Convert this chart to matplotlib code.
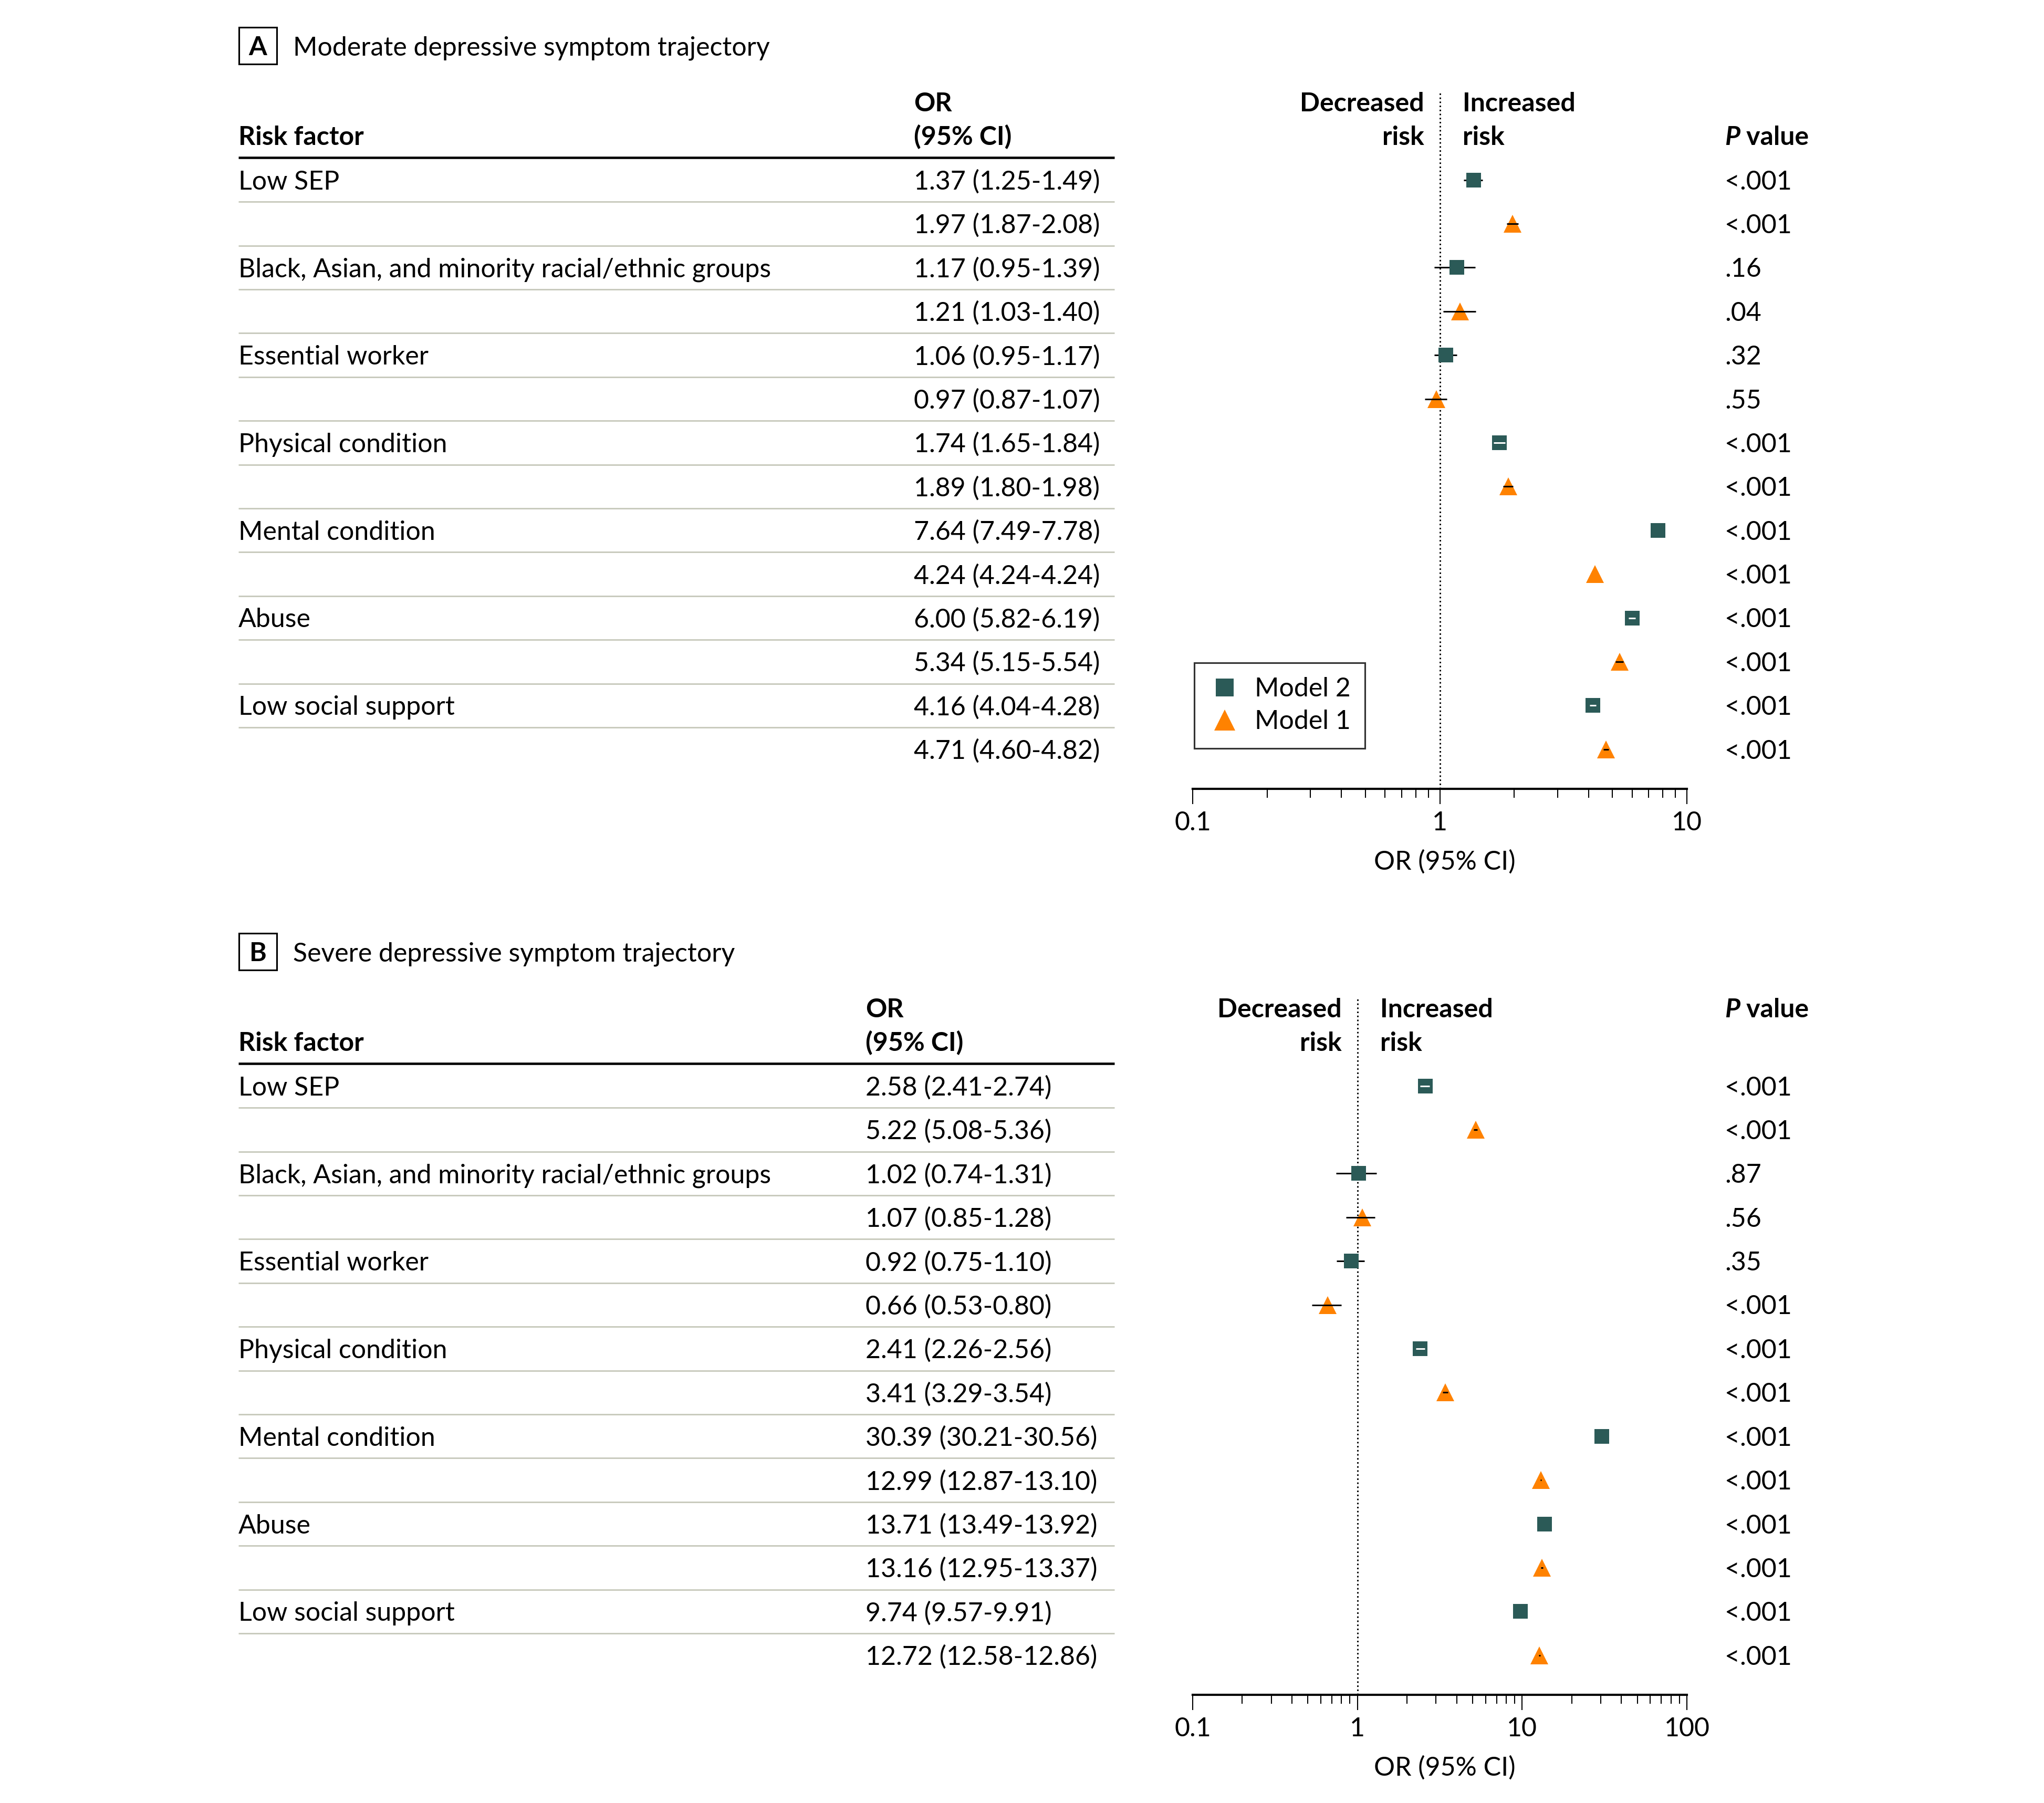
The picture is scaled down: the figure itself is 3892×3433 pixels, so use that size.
import matplotlib
matplotlib.use("Agg")
import matplotlib.pyplot as plt
import numpy as np
from matplotlib.ticker import LogLocator, NullFormatter, FixedLocator, FixedFormatter

plt.rcParams['font.family'] = ['Lato', 'DejaVu Sans']

# ---- data ----
factors = ["Low SEP", "Black, Asian, and minority racial/ethnic groups",
           "Essential worker", "Physical condition", "Mental condition",
           "Abuse", "Low social support"]

# panel A: moderate trajectory
a_m2_or = [1.37, 1.17, 1.06, 1.74, 7.64, 6.00, 4.16]
a_m2_lo = [1.25, 0.95, 0.95, 1.65, 7.49, 5.82, 4.04]
a_m2_hi = [1.49, 1.39, 1.17, 1.84, 7.78, 6.19, 4.28]
a_m1_or = [1.97, 1.21, 0.97, 1.89, 4.24, 5.34, 4.71]
a_m1_lo = [1.87, 1.03, 0.87, 1.80, 4.24, 5.15, 4.60]
a_m1_hi = [2.08, 1.40, 1.07, 1.98, 4.24, 5.54, 4.82]
a_m2_p = ["<.001", ".16", ".32", "<.001", "<.001", "<.001", "<.001"]
a_m1_p = ["<.001", ".04", ".55", "<.001", "<.001", "<.001", "<.001"]

# panel B: severe trajectory
b_m2_or = [2.58, 1.02, 0.92, 2.41, 30.39, 13.71, 9.74]
b_m2_lo = [2.41, 0.74, 0.75, 2.26, 30.21, 13.49, 9.57]
b_m2_hi = [2.74, 1.31, 1.10, 2.56, 30.56, 13.92, 9.91]
b_m1_or = [5.22, 1.07, 0.66, 3.41, 12.99, 13.16, 12.72]
b_m1_lo = [5.08, 0.85, 0.53, 3.29, 12.87, 12.95, 12.58]
b_m1_hi = [5.36, 1.28, 0.80, 3.54, 13.10, 13.37, 12.86]
b_m2_p = ["<.001", ".87", ".35", "<.001", "<.001", "<.001", "<.001"]
b_m1_p = ["<.001", ".56", "<.001", "<.001", "<.001", "<.001", "<.001"]

TEAL = '#2b5a57'
ORANGE = '#ff8200'
GREY = '#c8cabd'
FS = 12

W, H = 3892, 3433
fig = plt.figure(figsize=(W / 300, H / 300), dpi=300)
bg = fig.add_axes([0, 0, 1, 1])
bg.set_xlim(0, W)
bg.set_ylim(H, 0)
bg.axis('off')

STEP = 83.4
X_LEFT, X_TABLE_END = 454, 2122
AX_L, AX_R = 2271, 3212
X_P = 3284


def interleave(a, b):
    out = []
    for u, v in zip(a, b):
        out += [u, v]
    return out


def header_p(y):
    t = bg.text(X_P, y, "P", fontsize=FS, fontweight='bold', style='italic', va='baseline')
    bg.annotate(" value", xy=(1, 0), xycoords=t, fontsize=FS, fontweight='bold',
                va='bottom', ha='left')


def panel(letter, title, top, or_x, m2, m1, p2, p1, xmax, xticks, ref_x,
          p_line, legend=False):
    # top = y of title centre
    bx0, bx1 = 455, 527
    bg.add_patch(plt.Rectangle((bx0, top - 35), bx1 - bx0, 70, fill=False,
                               lw=0.75, ec='black'))
    bg.text((bx0 + bx1) / 2, top + 18, letter, fontsize=FS, fontweight='bold',
            ha='center', va='baseline')
    bg.text(558, top + 18, title, fontsize=FS, va='baseline')

    h1 = top + 106.6 + 18   # first header line baseline
    h2 = h1 + 64.4          # second header line baseline
    line_y = top + 213
    row0 = top + 255.5

    bg.text(X_LEFT, h2, "Risk factor", fontsize=FS, fontweight='bold', va='baseline')
    bg.text(or_x, h1, "OR", fontsize=FS, fontweight='bold', va='baseline')
    bg.text(or_x, h2, "(95% CI)", fontsize=FS, fontweight='bold', va='baseline')
    header_p(h1 if p_line == 1 else h2)
    bg.text(ref_x - 29, h1, "Decreased", fontsize=FS, fontweight='bold', ha='right', va='baseline')
    bg.text(ref_x - 29, h2, "risk", fontsize=FS, fontweight='bold', ha='right', va='baseline')
    bg.text(ref_x + 44, h1, "Increased", fontsize=FS, fontweight='bold', va='baseline')
    bg.text(ref_x + 44, h2, "risk", fontsize=FS, fontweight='bold', va='baseline')

    bg.plot([X_LEFT, X_TABLE_END], [line_y, line_y], color='black', lw=1.1,
            solid_capstyle='butt')

    ors = interleave(m2[0], m1[0])
    los = interleave(m2[1], m1[1])
    his = interleave(m2[2], m1[2])
    ps = interleave(p2, p1)
    n = len(ors)
    rows = row0 + STEP * np.arange(n)

    for i in range(n):
        y = rows[i]
        if i % 2 == 0:
            bg.text(X_LEFT, y + 18, factors[i // 2], fontsize=FS, va='baseline')
        bg.text(or_x, y + 18, f"{ors[i]:.2f} ({los[i]:.2f}-{his[i]:.2f})",
                fontsize=FS, va='baseline')
        bg.text(X_P, y + 18, ps[i], fontsize=FS, va='baseline')
        if i < n - 1:
            bg.plot([X_LEFT, X_TABLE_END], [y + STEP / 2] * 2, color=GREY, lw=0.7,
                    solid_capstyle='butt')

    # forest axes
    ax_top = top + 87
    ax_bot = top + 1415
    ax = fig.add_axes([AX_L / W, 1 - ax_bot / H, (AX_R - AX_L) / W, (ax_bot - ax_top) / H])
    ax.set_xscale('log')
    ax.set_xlim(0.1, xmax)
    ax.set_ylim(ax_bot, ax_top)
    ax.patch.set_alpha(0)
    for s in ['left', 'right', 'top']:
        ax.spines[s].set_visible(False)
    ax.spines['bottom'].set_linewidth(1.0)
    ax.set_yticks([])
    ax.xaxis.set_major_locator(FixedLocator(xticks))
    ax.xaxis.set_major_formatter(FixedFormatter([f"{t:g}" for t in xticks]))
    ax.xaxis.set_minor_locator(LogLocator(base=10, subs=np.arange(2, 10)))
    ax.xaxis.set_minor_formatter(NullFormatter())
    ax.tick_params(axis='x', which='major', length=7, width=0.5, labelsize=FS, pad=3)
    ax.tick_params(axis='x', which='minor', length=4, width=0.5)
    ax.axvline(1, color='black', ls=':', lw=0.7, zorder=1)

    px_per_dec = (AX_R - AX_L) / np.log10(xmax / 0.1)
    y2 = rows[0::2]
    y1 = rows[1::2]
    m2o, m2l, m2h = map(np.array, m2)
    m1o, m1l, m1h = map(np.array, m1)
    ax.hlines(y2, m2l, m2h, color='black', lw=0.72, zorder=2)
    sq, = ax.plot(m2o, y2, 's', ms=6.7, color=TEAL, mec=TEAL, mew=0, zorder=3,
                  label='Model 2', ls='none')
    # CI narrower than the square shows as white dash
    for o, l, h, y in zip(m2o, m2l, m2h, y2):
        w = np.log10(h / l) * px_per_dec
        if 9 < w < 26:
            ax.plot([l, h], [y, y], color='white', lw=0.72, zorder=4, solid_capstyle='butt')
    tr, = ax.plot(m1o, y1, '^', ms=8.2, color=ORANGE, mew=0, zorder=3,
                  label='Model 1', ls='none')
    ax.hlines(y1, m1l, m1h, color='black', lw=0.72, zorder=4)

    bg.text((AX_L + AX_R) / 2 + 9, ax_bot + 154, "OR (95% CI)", fontsize=FS,
            ha='center', va='baseline')

    if legend:
        leg = fig.legend(handles=[sq, tr], loc='upper left',
                         bbox_to_anchor=(2274 / W, 1 - 1262 / H), borderaxespad=0,
                         fontsize=FS, markerscale=1.2, frameon=True, fancybox=False,
                         edgecolor='black', handlelength=1.2, handletextpad=0.55,
                         borderpad=0.55, labelspacing=0.32)
        leg.get_frame().set_linewidth(0.75)


panel("A", "Moderate depressive symptom trajectory", 87, 1740,
      (a_m2_or, a_m2_lo, a_m2_hi), (a_m1_or, a_m1_lo, a_m1_hi),
      a_m2_p, a_m1_p, 10, [0.1, 1, 10], 2741, p_line=2, legend=True)
panel("B", "Severe depressive symptom trajectory", 1812, 1648,
      (b_m2_or, b_m2_lo, b_m2_hi), (b_m1_or, b_m1_lo, b_m1_hi),
      b_m2_p, b_m1_p, 100, [0.1, 1, 10, 100], 2584, p_line=1)

fig.savefig("out.png", dpi=300)
